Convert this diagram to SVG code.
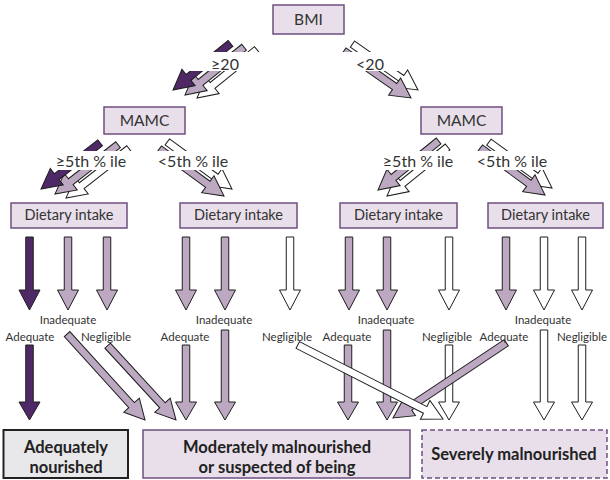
<svg xmlns="http://www.w3.org/2000/svg" width="610" height="480" viewBox="0 0 610 480">
  <style>
    text { font-family: Lato, "Open Sans", "Liberation Sans", sans-serif; fill: #333; }
    .node { fill: #e8dfea; stroke: #6f4f80; stroke-width: 1.5; }
    .ntxt { font-size: 15.5px; text-anchor: middle; }
    .dtxt { font-size: 14.5px; text-anchor: middle; }
    .elbl { font-size: 16px; text-anchor: middle; }
    .slbl { font-size: 11.5px; text-anchor: middle; }
    .band { fill: #fff; stroke: none; }
    .otxt { font-size: 16.5px; font-weight: bold; text-anchor: middle; fill: #222; }
    .dk { fill: #4f2866; stroke: #1e1e1e; stroke-width: 1; }
    .lv { fill: #bca9c1; stroke: #1e1e1e; stroke-width: 1; }
    .wh { fill: #fff; stroke: #1e1e1e; stroke-width: 1; }
  </style>
  <defs>
    <!-- vertical block arrows, origin at top centre of the shaft -->
    <path id="vUp" d="M-3.75,0 H3.75 V53 H10.5 L0,73 L-10.5,53 H-3.75 Z"/>
    <path id="vLoShort" d="M-3.75,0 H3.75 V57 H10.5 L0,75 L-10.5,57 H-3.75 Z"/>
    <path id="vLoLong" d="M-3.75,0 H3.75 V72 H10.5 L0,90 L-10.5,72 H-3.75 Z"/>
  </defs>

  <rect width="610" height="480" fill="#fff"/>

  <!-- connectors -->
  <g id="connectors">
    <!-- BMI >= 20 -->
    <path class="wh" transform="translate(197,98) rotate(141)" d="M-77,-3.75 H-20 V-10.5 L0,0 L-20,10.5 V3.75 H-77 Z"/>
    <path class="lv" transform="translate(185,95) rotate(141)" d="M-76,-3.75 H-20 V-10.5 L0,0 L-20,10.5 V3.75 H-76 Z"/>
    <path class="dk" transform="translate(173,90) rotate(141)" d="M-74,-3.75 H-20 V-10.5 L0,0 L-20,10.5 V3.75 H-74 Z"/>
    <!-- BMI < 20 -->
    <path class="wh" transform="translate(418,90) rotate(35)" d="M-80,-3.75 H-20 V-10.5 L0,0 L-20,10.5 V3.75 H-80 Z"/>
    <path class="lv" transform="translate(411,98) rotate(35)" d="M-82,-3.75 H-20 V-10.5 L0,0 L-20,10.5 V3.75 H-82 Z"/>

    <!-- left MAMC >= 5th -->
    <path class="wh" transform="translate(66,198) rotate(142)" d="M-80,-3.75 H-20 V-10.5 L0,0 L-20,10.5 V3.75 H-80 Z"/>
    <path class="lv" transform="translate(55,194) rotate(142)" d="M-80,-3.75 H-20 V-10.5 L0,0 L-20,10.5 V3.75 H-80 Z"/>
    <path class="dk" transform="translate(41,189) rotate(142)" d="M-75,-3.75 H-20 V-10.5 L0,0 L-20,10.5 V3.75 H-75 Z"/>
    <!-- left MAMC < 5th -->
    <path class="wh" transform="translate(232,189) rotate(36)" d="M-80,-3.75 H-20 V-10.5 L0,0 L-20,10.5 V3.75 H-80 Z"/>
    <path class="lv" transform="translate(224,196) rotate(36)" d="M-80,-3.75 H-20 V-10.5 L0,0 L-20,10.5 V3.75 H-80 Z"/>
    <!-- right MAMC >= 5th -->
    <path class="wh" transform="translate(387,196) rotate(141)" d="M-78,-3.75 H-20 V-10.5 L0,0 L-20,10.5 V3.75 H-78 Z"/>
    <path class="lv" transform="translate(378,190) rotate(141)" d="M-78,-3.75 H-20 V-10.5 L0,0 L-20,10.5 V3.75 H-78 Z"/>
    <!-- right MAMC < 5th -->
    <path class="wh" transform="translate(552,188) rotate(36)" d="M-78,-3.75 H-20 V-10.5 L0,0 L-20,10.5 V3.75 H-78 Z"/>
    <path class="lv" transform="translate(545,195) rotate(36)" d="M-80,-3.75 H-20 V-10.5 L0,0 L-20,10.5 V3.75 H-80 Z"/>

    <!-- dietary intake outflows -->
    <use href="#vUp" class="dk" x="29.5" y="237"/>
    <use href="#vUp" class="lv" x="68" y="237"/>
    <use href="#vUp" class="lv" x="107" y="237"/>
    <use href="#vUp" class="lv" x="186" y="237"/>
    <use href="#vUp" class="lv" x="225" y="237"/>
    <use href="#vUp" class="wh" x="290" y="237"/>
    <use href="#vUp" class="lv" x="349" y="237"/>
    <use href="#vUp" class="lv" x="387" y="237"/>
    <use href="#vUp" class="wh" x="449" y="237"/>
    <use href="#vUp" class="lv" x="506" y="237"/>
    <use href="#vUp" class="wh" x="544" y="237"/>
    <use href="#vUp" class="wh" x="582" y="237"/>

    <!-- outcome arrows -->
    <use href="#vLoShort" class="dk" x="29.5" y="345"/>
    <use href="#vLoShort" class="lv" x="186" y="345"/>
    <use href="#vLoLong" class="lv" x="225" y="330"/>
    <use href="#vLoShort" class="lv" x="348" y="345"/>
    <use href="#vLoLong" class="lv" x="387" y="330"/>
    <use href="#vLoShort" class="wh" x="449" y="345"/>
    <use href="#vLoLong" class="wh" x="544" y="330"/>
    <use href="#vLoShort" class="wh" x="582" y="345"/>

    <path class="lv" transform="translate(145,420) rotate(47.8)" d="M-116,-3.75 H-20 V-10.5 L0,0 L-20,10.5 V3.75 H-116 Z"/>
    <path class="lv" transform="translate(176,420) rotate(47.4)" d="M-101,-3.75 H-20 V-10.5 L0,0 L-20,10.5 V3.75 H-101 Z"/>
    <path class="lv" transform="translate(393,418) rotate(146.4)" d="M-136,-3.75 H-20 V-10.5 L0,0 L-20,10.5 V3.75 H-136 Z"/>
    <path class="wh" transform="translate(443,419) rotate(27)" d="M-163,-3.75 H-20 V-10.5 L0,0 L-20,10.5 V3.75 H-163 Z"/>
  </g>

  <!-- branch labels on white bands -->
  <g id="edge-labels">
    <rect class="band" x="186" y="52" width="78" height="19"/>
    <text class="elbl" x="225" y="70">≥20</text>
    <rect class="band" x="336" y="52" width="66" height="19"/>
    <text class="elbl" x="370" y="70">&lt;20</text>

    <rect class="band" x="52" y="151" width="80" height="19"/>
    <text class="elbl" x="91" y="167">≥5th % ile</text>
    <rect class="band" x="154" y="151" width="78" height="19"/>
    <text class="elbl" x="193" y="167">&lt;5th % ile</text>
    <rect class="band" x="381" y="151" width="76" height="19"/>
    <text class="elbl" x="418" y="167">≥5th % ile</text>
    <rect class="band" x="475" y="151" width="75" height="19"/>
    <text class="elbl" x="512" y="167">&lt;5th % ile</text>

    <text class="slbl" x="30" y="341">Adequate</text>
    <text class="slbl" x="68" y="324">Inadequate</text>
    <text class="slbl" x="106" y="341">Negligible</text>
    <text class="slbl" x="185" y="341">Adequate</text>
    <text class="slbl" x="224" y="324">Inadequate</text>
    <text class="slbl" x="287" y="341">Negligible</text>
    <text class="slbl" x="347" y="341">Adequate</text>
    <text class="slbl" x="386" y="324">Inadequate</text>
    <text class="slbl" x="447" y="341">Negligible</text>
    <text class="slbl" x="504" y="341">Adequate</text>
    <text class="slbl" x="543" y="324">Inadequate</text>
    <text class="slbl" x="582" y="341">Negligible</text>
  </g>

  <!-- nodes -->
  <g id="bmi">
    <rect class="node" x="273" y="5" width="71" height="29"/>
    <text class="ntxt" x="308.5" y="25">BMI</text>
  </g>
  <g id="mamc-high">
    <rect class="node" x="104" y="107" width="81" height="27"/>
    <text class="ntxt" x="144.5" y="126">MAMC</text>
  </g>
  <g id="mamc-low">
    <rect class="node" x="421" y="107" width="81" height="27"/>
    <text class="ntxt" x="461.5" y="126">MAMC</text>
  </g>
  <g id="intake-1">
    <rect class="node" x="11" y="203" width="116" height="25"/>
    <text class="dtxt" x="69" y="220">Dietary intake</text>
  </g>
  <g id="intake-2">
    <rect class="node" x="180" y="203" width="117" height="25"/>
    <text class="dtxt" x="238.5" y="220">Dietary intake</text>
  </g>
  <g id="intake-3">
    <rect class="node" x="340" y="203" width="117" height="25"/>
    <text class="dtxt" x="398.5" y="220">Dietary intake</text>
  </g>
  <g id="intake-4">
    <rect class="node" x="488" y="203" width="115" height="25"/>
    <text class="dtxt" x="545.5" y="220">Dietary intake</text>
  </g>

  <g id="adequately-nourished">
    <rect x="3.5" y="430" width="124.5" height="48" fill="#e8e8ea" stroke="#222" stroke-width="2"/>
    <text class="otxt" x="66" y="453">Adequately</text>
    <text class="otxt" x="66" y="473">nourished</text>
  </g>
  <g id="moderately-malnourished">
    <rect class="node" x="143" y="430" width="267" height="48"/>
    <text class="otxt" x="277" y="453">Moderately malnourished</text>
    <text class="otxt" x="277" y="473">or suspected of being</text>
  </g>
  <g id="severely-malnourished">
    <rect class="node" x="422" y="430" width="185" height="48" stroke-dasharray="5,3"/>
    <text class="otxt" x="514" y="460">Severely malnourished</text>
  </g>
</svg>
